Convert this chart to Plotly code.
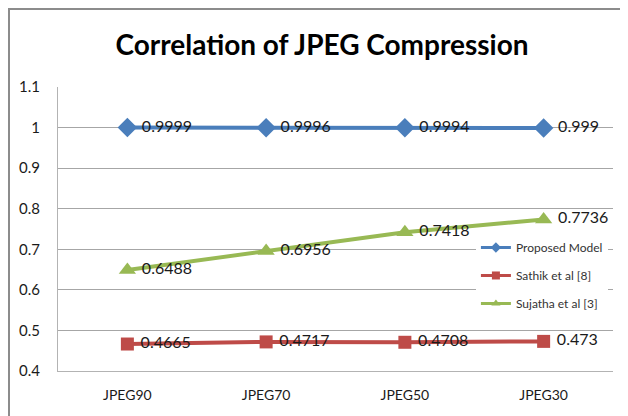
"""Line chart: correlation of JPEG compression."""

import plotly.graph_objects as go

# ----- Data -----
CATEGORIES = ["JPEG90", "JPEG70", "JPEG50", "JPEG30"]
PROPOSED = [0.9999, 0.9996, 0.9994, 0.999]
SATHIK = [0.4665, 0.4717, 0.4708, 0.473]
SUJATHA = [0.6488, 0.6956, 0.7418, 0.7736]
Y_TICKS = [0.4, 0.5, 0.6, 0.7, 0.8, 0.9, 1.0, 1.1]
Y_TICK_LABELS = ["0.4", "0.5", "0.6", "0.7", "0.8", "0.9", "1", "1.1"]

FONT = "Lato, 'Open Sans', sans-serif"

series = [
    ("Proposed Model", PROPOSED, "#4A7EBB", "diamond", 15),
    ("Sathik et al [8]", SATHIK, "#BE4B48", "square", 13),
    ("Sujatha et al [3]", SUJATHA, "#98B954", "triangle-up", 15),
]

fig = go.Figure()
for i, (name, values, color, symbol, size) in enumerate(series):
    fig.add_trace(go.Scatter(
        x=CATEGORIES,
        y=values,
        name=name,
        mode="lines+markers+text",
        line=dict(color=color, width=4),
        marker=dict(color=color, symbol=symbol, size=size),
        # non-breaking space nudges the label off the marker like Excel does
        text=["\u00a0" + str(v) for v in values],
        textposition="middle right",
        textfont=dict(family=FONT, size=16, color="#1a1a1a"),
        showlegend=False,
        cliponaxis=False,
    ))
    # small legend-only entry (Excel style legend key)
    fig.add_trace(go.Scatter(
        x=[None], y=[None],
        name=name,
        mode="lines+markers",
        line=dict(color=color, width=3),
        marker=dict(color=color, symbol=symbol, size=8),
        legendgroup=str(i),
    ))

# outer chart border (left and top visible)
fig.add_shape(
    type="rect", xref="paper", yref="paper",
    x0=-49 / 555, x1=1.2, y0=-0.5, y1=1 + 78 / 284,
    line=dict(color="#8c8c8c", width=2),
    layer="below",
)

fig.update_layout(
    width=628,
    height=416,
    template="plotly_white",
    plot_bgcolor="white",
    paper_bgcolor="white",
    margin=dict(l=50, r=23, t=79, b=53, autoexpand=False),
    title=dict(
        text="<b>Correlation of JPEG Compression</b>",
        x=0.5, xanchor="center",
        y=0.911, yanchor="middle",
        font=dict(family=FONT, size=28, color="black"),
    ),
    legend=dict(
        x=0.753, y=0.486, xanchor="left", yanchor="top",
        bgcolor="white",
        font=dict(family=FONT, size=12, color="#333333"),
        traceorder="grouped",
        tracegroupgap=9,
        itemwidth=30,
    ),
    showlegend=True,
)

fig.update_xaxes(
    range=[-0.5, 3.5],
    showgrid=False,
    showline=True, linecolor="#b3b3b3", linewidth=1,
    ticks="", tickfont=dict(family=FONT, size=14, color="#1a1a1a"),
    ticklabelstandoff=11,
    automargin=False,
)
fig.update_yaxes(
    range=[0.4, 1.1],
    tickvals=Y_TICKS, ticktext=Y_TICK_LABELS,
    showgrid=True, gridcolor="#a6a6a6", gridwidth=1,
    showline=True, linecolor="#b3b3b3", linewidth=1,
    zeroline=False,
    ticks="", tickfont=dict(family=FONT, size=15, color="#1a1a1a"),
    ticklabelstandoff=14,
    automargin=False,
)

fig.write_html("out.html")
